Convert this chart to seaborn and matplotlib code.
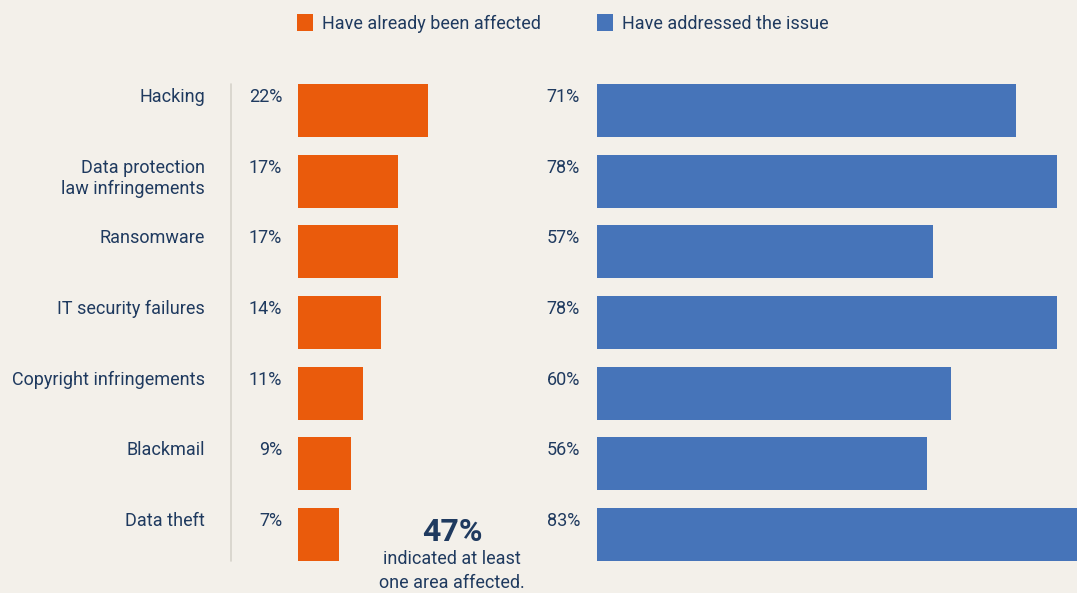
import matplotlib
matplotlib.use("Agg")
import matplotlib.pyplot as plt
from matplotlib.patches import Rectangle
from matplotlib.lines import Line2D
import pandas as pd
import seaborn as sns

categories = ["Hacking", "Data protection\nlaw infringements", "Ransomware",
              "IT security failures", "Copyright infringements", "Blackmail", "Data theft"]
affected = [22, 17, 17, 14, 11, 9, 7]
addressed = [71, 78, 57, 78, 60, 56, 83]
legend_labels = ["Have already been affected", "Have addressed the issue"]
summary_value = "47%"
summary_text = "indicated at least\none area affected."

BG = "#f3f0ea"
ORANGE = "#ea5b0c"
BLUE = "#4674b9"
TEXT = "#1f3a5f"
W, H = 1077, 593

sns.set_theme(style="white")
plt.rcParams["font.family"] = ["Roboto", "DejaVu Sans"]

df = pd.DataFrame({"category": categories, "affected": affected, "addressed": addressed})

fig = plt.figure(figsize=(W / 100, H / 100), dpi=100, facecolor=BG)


def px_axes(x0, y0, x1, y1):
    """Axes placed by pixel box (top-left origin)."""
    return fig.add_axes([x0 / W, 1 - y1 / H, (x1 - x0) / W, (y1 - y0) / H])


PX_PER_PCT = 5.9
top, bottom = 75, 570
ax_l = px_axes(298, top, 298 + 200, bottom)
ax_r = px_axes(597, top, W, bottom)

sns.barplot(data=df, y="category", x="affected", ax=ax_l, color=ORANGE,
            orient="h", width=0.75, saturation=1, linewidth=0)
sns.barplot(data=df, y="category", x="addressed", ax=ax_r, color=BLUE,
            orient="h", width=0.75, saturation=1, linewidth=0)

ax_l.set_xlim(0, 200 / PX_PER_PCT)
ax_r.set_xlim(0, (W - 597) / PX_PER_PCT)

for ax in (ax_l, ax_r):
    ax.set_facecolor(BG)
    ax.set_ylim(len(categories) - 0.5, -0.5)
    ax.set_xlabel("")
    ax.set_ylabel("")
    ax.set_xticks([])
    ax.set_yticks([])
    for s in ax.spines.values():
        s.set_visible(False)

FS = 13
unit_px = (bottom - top) / len(categories)
label_dy = 4 / unit_px
for i, (cat, a, b) in enumerate(zip(categories, affected, addressed)):
    ytop = i - 0.375 + label_dy
    ax_l.text((205 - 298) / 200, ytop, cat, transform=ax_l.get_yaxis_transform(),
              ha="right", va="top", fontsize=FS, color=TEXT, linespacing=1.25)
    ax_l.text((282 - 298) / 200, ytop, f"{a}%", transform=ax_l.get_yaxis_transform(),
              ha="right", va="top", fontsize=FS, color=TEXT)
    ax_r.text((580 - 597) / (W - 597), ytop, f"{b}%", transform=ax_r.get_yaxis_transform(),
              ha="right", va="top", fontsize=FS, color=TEXT)

# separator between category names and values
fig.add_artist(Line2D([231 / W, 231 / W], [1 - 84 / H, 1 - 561 / H],
                      color="#d6d2ca", lw=1.2))

# legend
for (x, col, lab) in [(297, ORANGE, legend_labels[0]), (597, BLUE, legend_labels[1])]:
    fig.add_artist(Rectangle((x / W, 1 - 31 / H), 16 / W, 17 / H,
                             facecolor=col, edgecolor="none", transform=fig.transFigure))
    fig.text((x + 25) / W, 1 - 24 / H, lab, ha="left", va="center",
             fontsize=FS, color=TEXT)

# summary callout
fig.text(452 / W, 1 - 532 / H, summary_value, ha="center", va="center",
         fontsize=23, fontweight="bold", color=TEXT)
fig.text(452 / W, 1 - 571 / H, summary_text, ha="center", va="center",
         fontsize=FS, color=TEXT, linespacing=1.4)

fig.savefig("out.png", dpi=100, facecolor=BG)
